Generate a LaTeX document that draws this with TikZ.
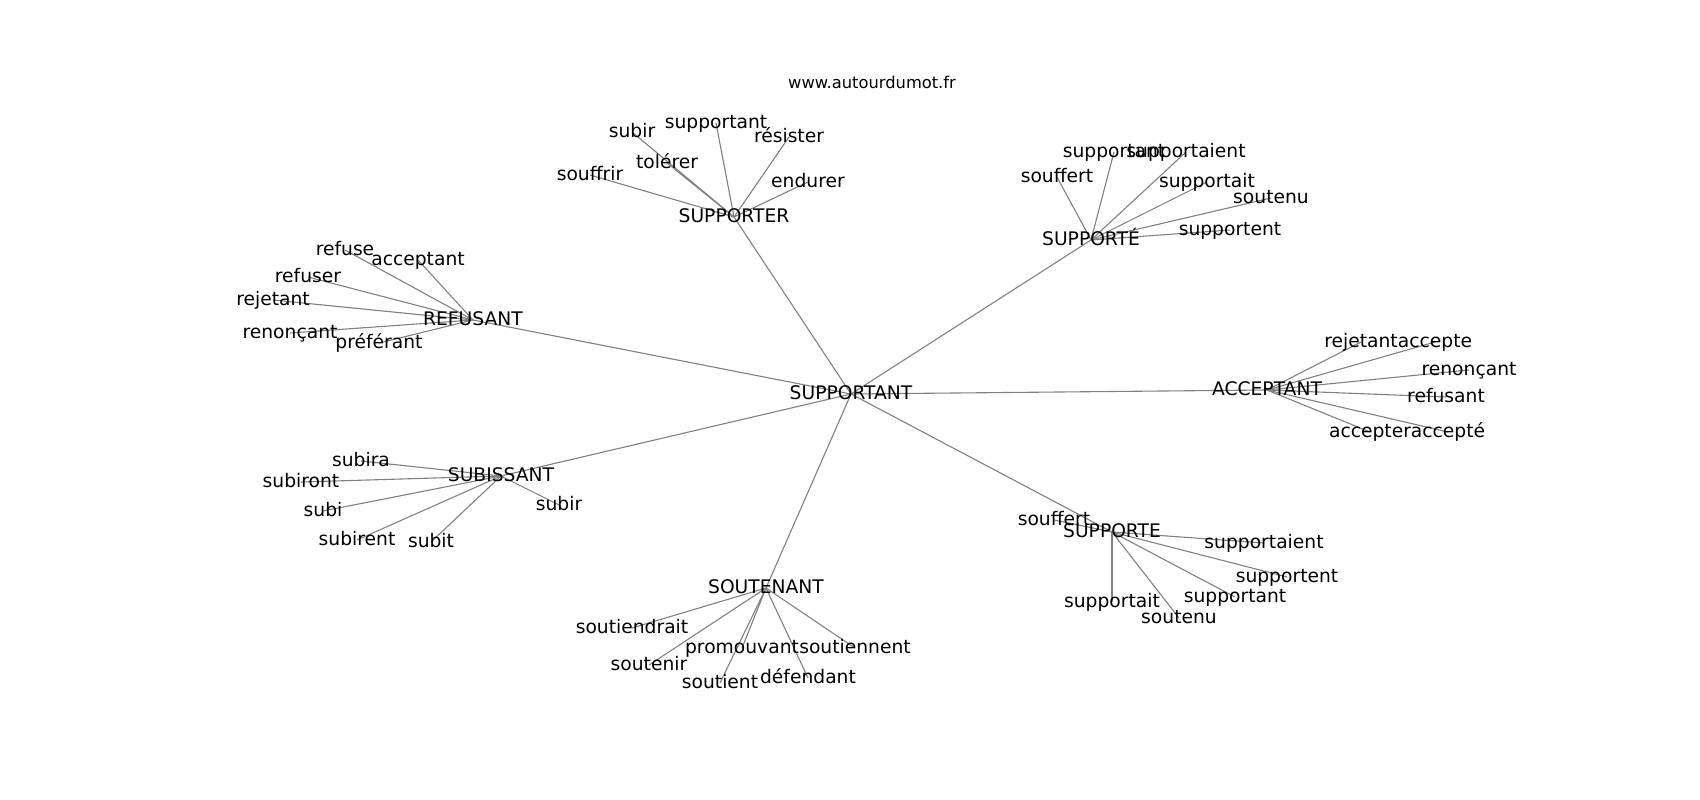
\documentclass[tikz,border=0pt]{standalone}
\usepackage{fontspec}
\setmainfont{DejaVu Sans}
\usetikzlibrary{backgrounds}
\begin{document}
\begin{tikzpicture}[x=1pt,y=-1pt,
  lbl/.style={inner sep=0pt,anchor=center,text height=14.2pt,text depth=4.2pt,font=\fontsize{18.7}{22}\selectfont},
  edge/.style={draw=gray,line width=1.1pt}]
\useasboundingbox (0,0) rectangle (1700,800);
\node[anchor=base,inner sep=0pt,font=\fontsize{16.3}{19}\selectfont] (title) at (872,88.3) {www.autourdumot.fr};
% hubs
\node[lbl] (c) at (851,394) {SUPPORTANT};
\node[lbl] (h1) at (734,217) {SUPPORTER};
\node[lbl] (h2) at (1091,240) {SUPPORTÉ};
\node[lbl] (h3) at (473,320) {REFUSANT};
\node[lbl] (h4) at (1267,390) {ACCEPTANT};
\node[lbl] (h5) at (501,476) {SUBISSANT};
\node[lbl] (h6) at (1112,532) {SUPPORTE};
\node[lbl] (h7) at (766,588) {SOUTENANT};
% SUPPORTER leaves
\node[lbl] (a1) at (632,132) {subir};
\node[lbl] (a2) at (716,123) {supportant};
\node[lbl] (a3) at (789,137) {résister};
\node[lbl] (a4) at (667,163) {tolérer};
\node[lbl] (a5) at (590,175) {souffrir};
\node[lbl] (a6) at (808,182) {endurer};
% SUPPORTÉ leaves
\node[lbl] (b1) at (1114,152) {supportant};
\node[lbl] (b2) at (1186,152) {supportaient};
\node[lbl] (b3) at (1057,177) {souffert};
\node[lbl] (b4) at (1207,182) {supportait};
\node[lbl] (b5) at (1271,198) {soutenu};
\node[lbl] (b6) at (1230,230) {supportent};
% REFUSANT leaves
\node[lbl] (r1) at (345,250) {refuse};
\node[lbl] (r2) at (418,260) {acceptant};
\node[lbl] (r3) at (308,277) {refuser};
\node[lbl] (r4) at (273,300) {rejetant};
\node[lbl] (r5) at (290,333) {renonçant};
\node[lbl] (r6) at (379,343) {préférant};
% ACCEPTANT leaves
\node[lbl] (k1) at (1361,342) {rejetant};
\node[lbl] (k2) at (1435,342) {accepte};
\node[lbl] (k3) at (1469,370) {renonçant};
\node[lbl] (k4) at (1446,397) {refusant};
\node[lbl] (k5) at (1370,432) {accepter};
\node[lbl] (k6) at (1448,432) {accepté};
% SUBISSANT leaves
\node[lbl] (s1) at (361,461) {subira};
\node[lbl] (s2) at (301,482) {subiront};
\node[lbl] (s3) at (323,511) {subi};
\node[lbl] (s4) at (357,540) {subirent};
\node[lbl] (s5) at (431,542) {subit};
\node[lbl] (s6) at (559,505) {subir};
% SUPPORTE leaves
\node[lbl] (p1) at (1054,520) {souffert};
\node[lbl] (p2) at (1264,543) {supportaient};
\node[lbl] (p3) at (1287,577) {supportent};
\node[lbl] (p4) at (1235,597) {supportant};
\node[lbl] (p5) at (1112,602) {supportait};
\node[lbl] (p6) at (1179,618) {soutenu};
% SOUTENANT leaves
\node[lbl] (t1) at (632,628) {soutiendrait};
\node[lbl] (t2) at (742,648) {promouvant};
\node[lbl] (t3) at (855,648) {soutiennent};
\node[lbl] (t4) at (649,665) {soutenir};
\node[lbl] (t5) at (720,683) {soutient};
\node[lbl] (t6) at (808,678) {défendant};
\begin{scope}[on background layer]
\foreach \h in {h1,h2,h3,h4,h5,h6,h7} \draw[edge] (c.center) -- (\h.center);
\foreach \l in {a1,a2,a3,a4,a5,a6} \draw[edge] (h1.center) -- (\l.center);
\foreach \l in {b1,b2,b3,b4,b5,b6} \draw[edge] (h2.center) -- (\l.center);
\foreach \l in {r1,r2,r3,r4,r5,r6} \draw[edge] (h3.center) -- (\l.center);
\foreach \l in {k1,k2,k3,k4,k5,k6} \draw[edge] (h4.center) -- (\l.center);
\foreach \l in {s1,s2,s3,s4,s5,s6} \draw[edge] (h5.center) -- (\l.center);
\foreach \l in {p1,p2,p3,p4,p5,p6} \draw[edge] (h6.center) -- (\l.center);
\foreach \l in {t1,t2,t3,t4,t5,t6} \draw[edge] (h7.center) -- (\l.center);
\end{scope}
\end{tikzpicture}
\end{document}
